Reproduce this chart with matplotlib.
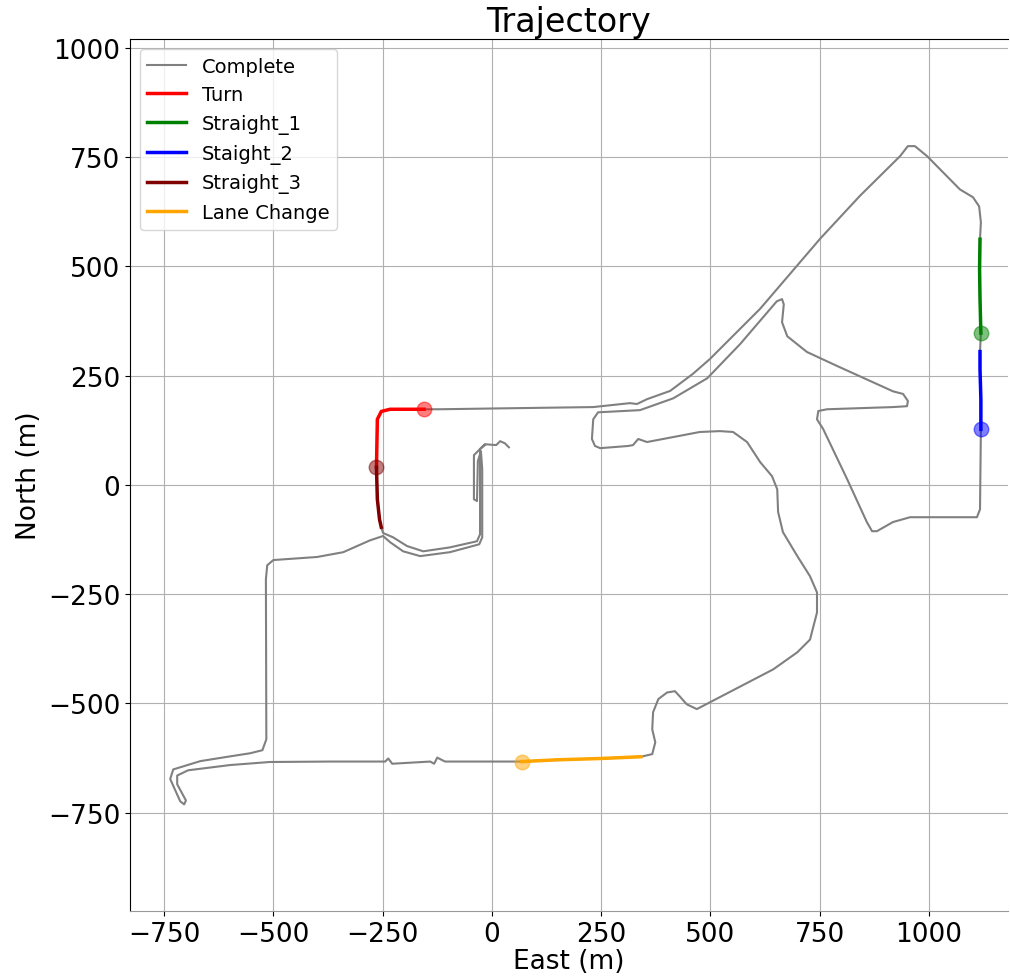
import matplotlib.pyplot as plt

# complete trajectory (East, North) in metres
east = [39, 30, 19, 10, -16, -25,
        -32, -41, -41, -34, -32, -25,
        -22, -22, -29,
        -96, -164, -203, -233, -249,
        -279, -340, -400, -500, -514, -517,
        -516, -525, -553, -598, -667, -729, -736, -713, -704, -700, -720, -720, -695, -599, -508,
        -370, -244, -237, -228, -141, -132, -125, -107, 69,
        150, 250, 341,
        367, 374, 367, 369, 381, 401, 419, 430, 446, 469,
        644, 699, 728, 744, 744, 728, 699, 666, 655, 653, 641, 614, 584, 552, 522, 476,
        355, 335, 323, 312, 248, 236, 229, 232, 243,
        339, 415, 493, 568, 652,
        664, 668, 664, 676, 721, 790, 918, 941, 952, 950, 918, 767, 747, 744, 758,
        813, 858, 870, 881, 918, 957, 1071, 1110, 1117,
        1119, 1119, 1117, 1117,
        1119, 1117, 1116, 1117,
        1119, 1115, 1101, 1071, 996, 968, 952, 934, 842, 751, 614, 499, 460, 408,
        355, 332, 316, 232, 156, 19, -119,
        -155, -233, -253, -262, -264,
        -262, -257, -253,
        -249, -226, -194, -157, -96, -34, -27, -27, -16]
north = [86, 95, 100, 91, 93, 84,
         77, 68, -33, -37, 54, 77,
         36, -120, -136,
         -154, -163, -152, -131, -117,
         -127, -154, -165, -172, -184, -216,
         -582, -607, -614, -621, -632, -651, -673, -724, -731, -722, -685, -665, -653, -641, -634,
         -633, -633, -626, -638, -633, -638, -624, -633, -633,
         -629, -626, -622,
         -616, -589, -559, -520, -490, -475, -472, -484, -502, -513,
         -422, -383, -354, -292, -246, -209, -163, -108, -62, -10, 20, 52, 98, 121, 123, 121,
         98, 105, 91, 89, 84, 89, 105, 150, 166,
         171, 198, 244, 322, 420,
         425, 413, 372, 340, 304, 272, 214, 208, 192, 180, 178, 173, 169, 150, 128,
         13, -85, -106, -106, -85, -74, -74, -74, -56,
         127, 196, 264, 305,
         347, 425, 494, 562,
         601, 637, 658, 676, 752, 775, 775, 752, 661, 563, 403, 288, 254, 215,
         196, 185, 187, 178, 177, 175, 173,
         173, 173, 168, 150, 40,
         -33, -79, -97,
         -110, -120, -140, -152, -143, -129, -113, 82, 91]

# manoeuvre segments
turn_e = [-155, -233, -253, -262, -264]
turn_n = [173, 173, 168, 150, 40]
s1_e = [1119, 1117, 1116, 1117]
s1_n = [347, 425, 494, 562]
s2_e = [1119, 1119, 1117, 1117]
s2_n = [127, 196, 264, 305]
s3_e = [-264, -262, -257, -253]
s3_n = [40, -33, -79, -97]
lc_e = [69, 150, 250, 341]
lc_n = [-633, -629, -626, -622]

fig = plt.figure(figsize=(10.1, 9.79), dpi=100)
ax = fig.add_axes([0.1287, 0.0684, 0.8693, 0.8907])

ax.plot(east, north, color='grey', linewidth=1.5, label='Complete', zorder=2)
segs = [(turn_e, turn_n, 'red', 'Turn'),
        (s1_e, s1_n, 'green', 'Straight_1'),
        (s2_e, s2_n, 'blue', 'Staight_2'),
        (s3_e, s3_n, 'maroon', 'Straight_3'),
        (lc_e, lc_n, 'orange', 'Lane Change')]
for e, n, c, lab in segs:
    ax.plot(e, n, color=c, linewidth=2.5, label=lab, zorder=3)
for e, n, c, lab in segs:
    ax.scatter(e[0], n[0], s=110, color=c, alpha=0.5, zorder=4)

ax.set_xlim(-828, 1181)
ax.set_ylim(-975, 1020)
ax.set_xticks([-750, -500, -250, 0, 250, 500, 750, 1000])
ax.set_yticks([-750, -500, -250, 0, 250, 500, 750, 1000])
ax.tick_params(labelsize=19)
ax.grid(True, color='#b0b0b0', linewidth=0.8)
ax.set_axisbelow(True)

ax.spines['right'].set_visible(False)
ax.spines['bottom'].set_color('#999999')

ax.set_title('Trajectory', fontsize=24)
ax.set_xlabel('East (m)', fontsize=19, labelpad=1)
ax.set_ylabel('North (m)', fontsize=19)
ax.legend(loc='upper left', fontsize=14)

plt.savefig('out.png', dpi=100)
